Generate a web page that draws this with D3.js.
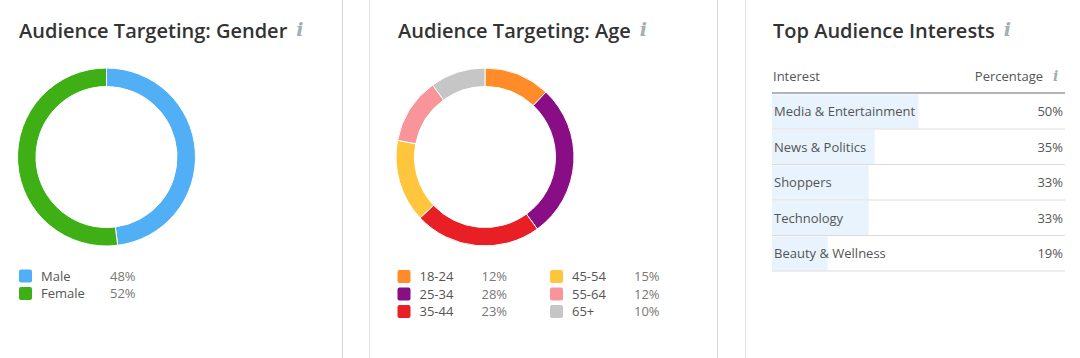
<!DOCTYPE html>
<html>
<head>
<meta charset="utf-8">
<script src="https://cdn.jsdelivr.net/npm/d3@7"></script>
<style>
  body { margin: 0; background: #fff; }
  svg { display: block; font-family: "Open Sans", "Noto Sans", sans-serif; }
  .title { font-size: 20px; font-weight: 600; fill: #333; }
  .info { font-family: "DejaVu Serif", serif; font-style: italic; font-weight: bold; fill: #a3aeb4; }
  .lbl { font-size: 13px; fill: #555; }
  .val { font-size: 13px; fill: #777; }
</style>
</head>
<body>
<svg id="chart" width="1080" height="358"></svg>
<script>
// data
var genderLabels = ["Male", "Female"];
var genderValues = [48, 52];
var genderColors = ["#50aff5", "#3eb015"];

var ageLabels = ["18-24", "25-34", "35-44", "45-54", "55-64", "65+"];
var ageValues = [12, 28, 23, 15, 12, 10];
var ageColors = ["#ff8c29", "#890e86", "#e81f25", "#ffc53c", "#f8959a", "#c6c6c6"];

var interestLabels = ["Media & Entertainment", "News & Politics", "Shoppers", "Technology", "Beauty & Wellness"];
var interestValues = [50, 35, 33, 33, 19];

var svg = d3.select("#chart");

// card borders
[342, 369, 717, 745].forEach(function(x, i) {
  svg.append("line")
    .attr("x1", x + 0.5).attr("x2", x + 0.5)
    .attr("y1", 0).attr("y2", 358)
    .attr("stroke", i % 2 == 0 ? "#d6d6d6" : "#e6e6e6");
});

function title(x, text) {
  var t = svg.append("text").attr("class", "title")
    .attr("x", x).attr("y", 38).text(text);
  var w = t.node().getComputedTextLength();
  svg.append("text").attr("class", "info")
    .attr("x", x + w + 9).attr("y", 36)
    .attr("font-size", 19).text("i");
}

title(19, "Audience Targeting: Gender");
title(398, "Audience Targeting: Age");
title(773, "Top Audience Interests");

var pie = d3.pie().sort(null).value(function(d) { return d; });
var arc = d3.arc().innerRadius(70.5).outerRadius(89);

function donut(cx, cy, values, colors) {
  var g = svg.append("g").attr("transform", "translate(" + cx + "," + cy + ")");
  g.selectAll("path")
    .data(pie(values))
    .enter().append("path")
    .attr("d", arc)
    .attr("fill", function(d, i) { return colors[i]; })
    .attr("stroke", "#fff")
    .attr("stroke-width", 1);
}

donut(106.5, 157, genderValues, genderColors);
donut(485, 157, ageValues, ageColors);

function legend(x, y, labels, values, colors, perCol, colW) {
  var item = svg.selectAll(null)
    .data(labels)
    .enter().append("g")
    .attr("transform", function(d, i) {
      var col = Math.floor(i / perCol), row = i % perCol;
      return "translate(" + (x + col * colW) + "," + (y + row * 17.5) + ")";
    });
  item.append("rect")
    .attr("x", 0).attr("y", -6.5)
    .attr("width", 13).attr("height", 13)
    .attr("rx", 2)
    .attr("fill", function(d, i) { return colors[i]; });
  item.append("text").attr("class", "lbl")
    .attr("x", 22).attr("dy", "0.35em")
    .text(function(d) { return d; });
  item.append("text").attr("class", "val")
    .attr("x", x < 300 ? 91 : 84).attr("dy", "0.35em")
    .text(function(d, i) { return values[i] + "%"; });
}

legend(19, 276, genderLabels, genderValues, genderColors, 2, 0);
legend(397.5, 276.5, ageLabels, ageValues, ageColors, 3, 152.5);

// interests table
var tx0 = 772, tx1 = 1065;
var x = d3.scaleLinear().domain([0, 100]).range([0, tx1 - tx0]);
var y = d3.scaleBand().domain(interestLabels).range([94, 271.5]);

svg.append("text").attr("class", "lbl")
  .attr("x", 773).attr("y", 81).text("Interest");
svg.append("text").attr("class", "lbl")
  .attr("x", 1043).attr("y", 81).attr("text-anchor", "end").text("Percentage");
svg.append("text").attr("class", "info")
  .attr("x", 1053).attr("y", 81).attr("font-size", 14).text("i");
svg.append("line")
  .attr("x1", tx0).attr("x2", tx1).attr("y1", 93).attr("y2", 93)
  .attr("stroke", "#9a9a9a").attr("stroke-width", 1.3);

var row = svg.selectAll("g.row")
  .data(interestLabels)
  .enter().append("g")
  .attr("class", "row")
  .attr("transform", function(d) { return "translate(" + tx0 + "," + y(d) + ")"; });

row.append("rect")
  .attr("x", 0).attr("y", 0.5)
  .attr("width", function(d, i) { return x(interestValues[i]); })
  .attr("height", y.bandwidth() - 1.5)
  .attr("fill", "#e8f3fd");

row.append("line")
  .attr("x1", 0).attr("x2", tx1 - tx0)
  .attr("y1", y.bandwidth() - 0.5).attr("y2", y.bandwidth() - 0.5)
  .attr("stroke", "#dcdcdc");

row.append("text").attr("class", "lbl")
  .attr("x", 2).attr("y", y.bandwidth() / 2).attr("dy", "0.35em")
  .text(function(d) { return d; });

row.append("text").attr("class", "lbl")
  .attr("x", tx1 - tx0 - 2).attr("y", y.bandwidth() / 2).attr("dy", "0.35em")
  .attr("text-anchor", "end")
  .text(function(d, i) { return interestValues[i] + "%"; });
</script>
</body>
</html>
